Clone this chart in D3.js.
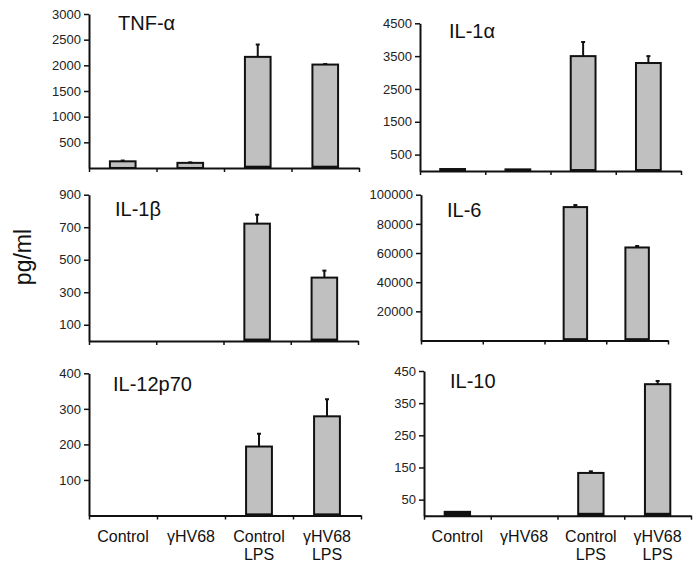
<!DOCTYPE html>
<html>
<head>
<meta charset="utf-8">
<script src="https://cdn.jsdelivr.net/npm/d3@7"></script>
<style>
  body { margin: 0; background: #fff; }
  svg text { font-family: Arial, "Liberation Sans", sans-serif; }
</style>
</head>
<body>
<svg id="chart" width="700" height="568"></svg>
<script>
// categories along the x axis (second line = LPS)
const categories = ["Control", "γHV68", "Control LPS", "γHV68 LPS"];
const categoryLines = [["Control"], ["γHV68"], ["Control", "LPS"], ["γHV68", "LPS"]];

const titles = ["TNF-α", "IL-1α", "IL-1β", "IL-6", "IL-12p70", "IL-10"];

// means (pg/ml)
const tnfValues = [130, 100, 2165, 2015];
const il1aValues = [60, 50, 3500, 3290];
const il1bValues = [0, 0, 722, 390];
const il6Values = [0, 0, 91500, 63800];
const il12Values = [0, 0, 194, 279];
const il10Values = [12, 0, 133, 409];

// upward error bars
const tnfErrors = [15, 10, 240, 10];
const il1aErrors = [0, 0, 430, 210];
const il1bErrors = [0, 0, 55, 43];
const il6Errors = [0, 0, 1400, 1000];
const il12Errors = [0, 0, 36, 48];
const il10Errors = [0, 0, 5, 10];

// dark bottom segment of each bar
const tnfDark = [20, 20, 45, 45];
const il1aDark = [60, 50, 60, 60];
const il1bDark = [0, 0, 15, 15];
const il6Dark = [0, 0, 1600, 1600];
const il12Dark = [0, 0, 6, 6];
const il10Dark = [12, 0, 9, 9];

// y tick labels
const tnfTicks = [500, 1000, 1500, 2000, 2500, 3000];
const il1aTicks = [500, 1500, 2500, 3500, 4500];
const il1bTicks = [100, 300, 500, 700, 900];
const il6Ticks = [20000, 40000, 60000, 80000, 100000];
const il12Ticks = [100, 200, 300, 400];
const il10Ticks = [50, 150, 250, 350, 450];

const yMax = [3000, 4500, 900, 100000, 400, 450];

// panel geometry: axis x range, zero line and top of y axis, title offset
const layout = [
  {x0: 89, x1: 359, y0: 168, yTop: 14, tdx: 29, tdy: 16},
  {x0: 420, x1: 681, y0: 171, yTop: 23.3, tdx: 29, tdy: 15},
  {x0: 89, x1: 358, y0: 341, yTop: 194.7, tdx: 26, tdy: 21},
  {x0: 421, x1: 668, y0: 340.5, yTop: 194.7, tdx: 26, tdy: 22.6},
  {x0: 89, x1: 361, y0: 515.5, yTop: 373.3, tdx: 24, tdy: 17.5},
  {x0: 424, x1: 691, y0: 515.7, yTop: 371, tdx: 26, tdy: 16.5}
];

const values = [tnfValues, il1aValues, il1bValues, il6Values, il12Values, il10Values];
const errors = [tnfErrors, il1aErrors, il1bErrors, il6Errors, il12Errors, il10Errors];
const darks = [tnfDark, il1aDark, il1bDark, il6Dark, il12Dark, il10Dark];
const ticks = [tnfTicks, il1aTicks, il1bTicks, il6Ticks, il12Ticks, il10Ticks];

const svg = d3.select("#chart");

svg.append("text")
  .attr("transform", "translate(31,257) rotate(-90)")
  .attr("text-anchor", "middle")
  .attr("font-size", 23)
  .attr("fill", "#111")
  .text("pg/ml");

titles.forEach((title, p) => {
  const L = layout[p];
  const g = svg.append("g");

  const x = d3.scaleBand()
    .domain(categories)
    .range([L.x0, L.x1])
    .paddingInner(0.62)
    .paddingOuter(0.31);
  const y = d3.scaleLinear()
    .domain([0, yMax[p]])
    .range([L.y0, L.yTop]);
  const bound = d3.scaleLinear().domain([0, categories.length]).range([L.x0, L.x1]);

  const rows = categories.map((c, i) => ({
    c: c, v: values[p][i], e: errors[p][i], d: darks[p][i]
  }));

  // grey bars
  g.selectAll("rect.bar")
    .data(rows.filter(r => r.v > 0))
    .join("rect")
      .attr("class", "bar")
      .attr("x", r => x(r.c))
      .attr("y", r => y(r.v))
      .attr("width", x.bandwidth())
      .attr("height", r => y(0) - y(r.v))
      .attr("fill", "#c0c0c0")
      .attr("stroke", "#111")
      .attr("stroke-width", 2);

  // dark bottom part
  g.selectAll("rect.dark")
    .data(rows.filter(r => r.d > 0))
    .join("rect")
      .attr("class", "dark")
      .attr("x", r => x(r.c))
      .attr("y", r => y(r.d))
      .attr("width", x.bandwidth())
      .attr("height", r => y(0) - y(r.d))
      .attr("fill", "#111");

  // error bars
  const err = rows.filter(r => r.e > 0);
  g.selectAll("line.err")
    .data(err)
    .join("line")
      .attr("class", "err")
      .attr("x1", r => x(r.c) + x.bandwidth() / 2)
      .attr("x2", r => x(r.c) + x.bandwidth() / 2)
      .attr("y1", r => y(r.v))
      .attr("y2", r => y(r.v + r.e))
      .attr("stroke", "#111")
      .attr("stroke-width", 2);
  g.selectAll("line.cap")
    .data(err)
    .join("line")
      .attr("class", "cap")
      .attr("x1", r => x(r.c) + x.bandwidth() / 2 - 2)
      .attr("x2", r => x(r.c) + x.bandwidth() / 2 + 2)
      .attr("y1", r => y(r.v + r.e))
      .attr("y2", r => y(r.v + r.e))
      .attr("stroke", "#111")
      .attr("stroke-width", 2);

  // y axis
  const yAxis = g.append("g")
    .attr("transform", `translate(${L.x0},0)`)
    .call(d3.axisLeft(y).tickValues(ticks[p]).tickFormat(d3.format("d"))
      .tickSize(5).tickSizeOuter(0).tickPadding(3));
  yAxis.select(".domain").attr("stroke", "#111").attr("stroke-width", 2);
  yAxis.selectAll(".tick line").attr("stroke", "#111").attr("stroke-width", 1.5);
  yAxis.selectAll(".tick text")
    .attr("font-size", 13)
    .attr("fill", "#222");

  // x axis with ticks at category boundaries
  const xAxis = g.append("g")
    .attr("transform", `translate(0,${L.y0})`)
    .call(d3.axisBottom(bound).tickValues(d3.range(categories.length + 1)).tickSize(4).tickSizeOuter(0).tickFormat(""));
  xAxis.select(".domain").attr("stroke", "#111").attr("stroke-width", 2);
  xAxis.selectAll(".tick line").attr("stroke", "#111").attr("stroke-width", 1.5);

  // category labels on the bottom row only
  if (p >= 4) {
    const lab = g.selectAll("text.cat")
      .data(categories)
      .join("text")
        .attr("class", "cat")
        .attr("text-anchor", "middle")
        .attr("font-size", 16)
        .attr("fill", "#111")
        .attr("x", c => x(c) + x.bandwidth() / 2)
        .attr("y", L.y0 + 26);
    lab.selectAll("tspan")
      .data((c, i) => categoryLines[i])
      .join("tspan")
        .attr("x", function() { return this.parentNode.getAttribute("x"); })
        .attr("dy", (t, j) => j === 0 ? 0 : 18)
        .text(t => t);
  }

  // panel title
  g.append("text")
    .attr("x", L.x0 + L.tdx)
    .attr("y", L.yTop + L.tdy)
    .attr("font-size", 20)
    .attr("fill", "#111")
    .text(title);
});
</script>
</body>
</html>
